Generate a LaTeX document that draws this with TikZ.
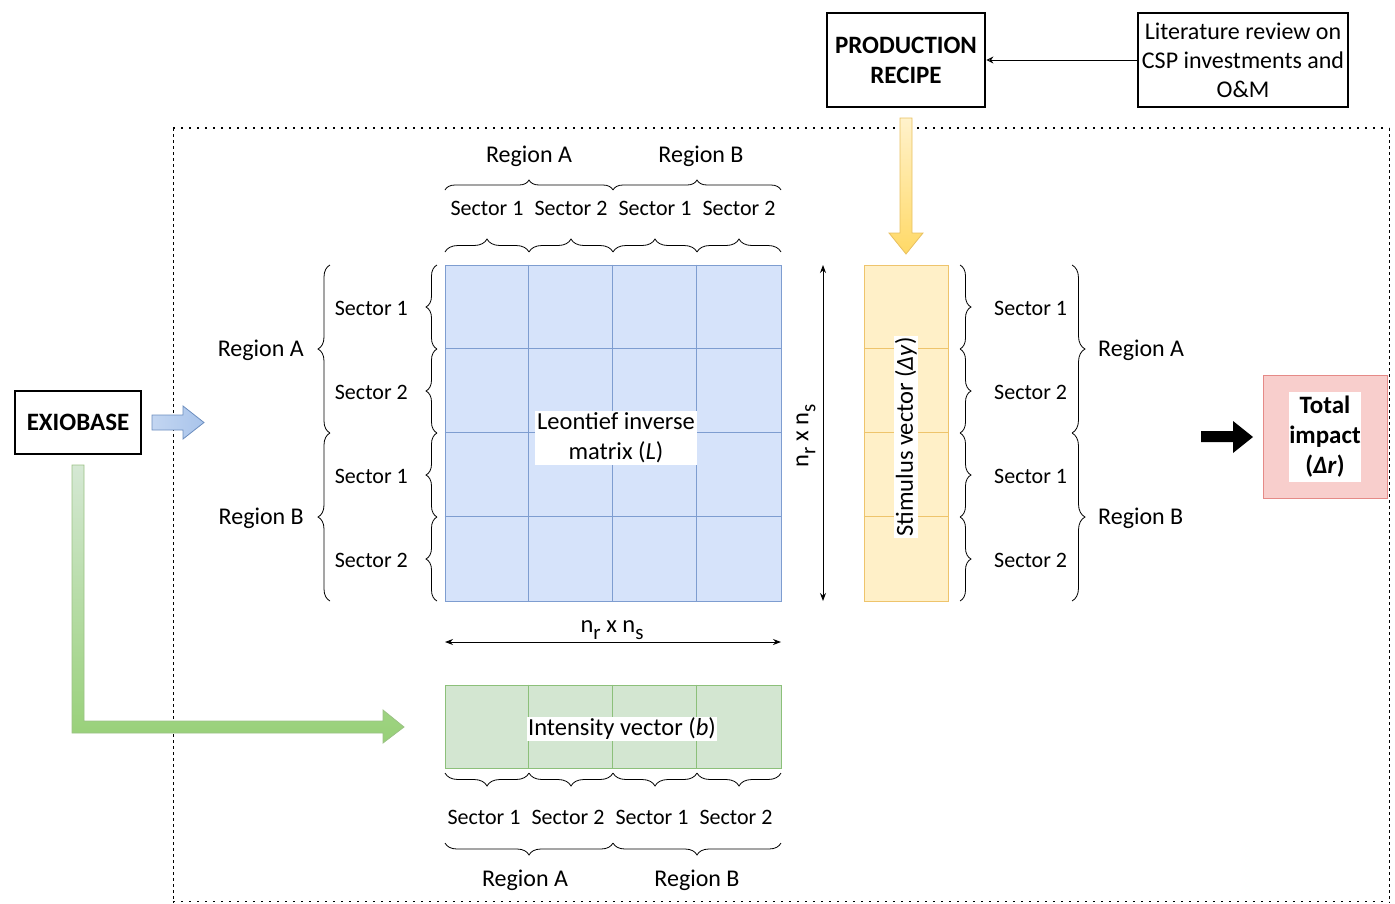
\documentclass[tikz,border=0pt]{standalone}
\usepackage{fontspec}
\setmainfont{Carlito}
\usetikzlibrary{decorations.pathreplacing,arrows.meta,calc}
\definecolor{bfill}{HTML}{D6E3FA}
\definecolor{bdraw}{HTML}{7E9DD0}
\definecolor{yfill}{HTML}{FFF0C8}
\definecolor{ydraw}{HTML}{EEC46C}
\definecolor{gfill}{HTML}{D3E6D1}
\definecolor{gdraw}{HTML}{8CC07A}
\definecolor{pfill}{HTML}{F8CECC}
\definecolor{pdraw}{HTML}{E58A87}
\definecolor{arblue}{HTML}{A9C4EB}
\definecolor{arblued}{HTML}{6C8EBF}
\definecolor{argreen1}{HTML}{D5E8D4}
\definecolor{argreen2}{HTML}{97D077}
\definecolor{argreend}{HTML}{82B366}
\definecolor{aryel1}{HTML}{FFF2CC}
\definecolor{aryel2}{HTML}{FFD966}
\definecolor{aryeld}{HTML}{E8C060}
\newcommand{\mysub}[1]{\raisebox{-0.28em}{\fontsize{21}{21}\selectfont #1}}
\newcommand{\nrns}{n\mysub{r} x n\mysub{s}}
\begin{document}
\begin{tikzpicture}[x=1pt,y=-1pt,
  every node/.style={font=\fontsize{24.5}{29}\selectfont, inner sep=0pt},
  secf/.style={font=\fontsize{22}{26}\selectfont},
  regf/.style={font=\fontsize{24}{28}\selectfont},
  thickbox/.style={draw=black, line width=2.8pt, align=center, font=\fontsize{25}{30}\selectfont\bfseries},
  brc/.style={decorate, decoration={brace, amplitude=#1}, line width=0.8pt},
  brc/.default=11pt,
  cellgrid/.style={line width=0.9pt},
  dim/.style={{Stealth[length=8pt,width=6pt]}-{Stealth[length=8pt,width=6pt]}, line width=0.9pt},
  wlabel/.style={fill=white, inner sep=2pt, align=center},
]
\useasboundingbox (0,0) rectangle (1395,903);

% dotted frame
\draw[line width=1.1pt, dash pattern=on 1.6pt off 6.4pt] (173,128) -- (1389,128);
\draw[line width=1.1pt, dash pattern=on 1.6pt off 6.4pt] (173,901.5) -- (1389,901.5);
\draw[line width=1pt, dash pattern=on 3pt off 3pt] (173,128) -- (173,903);
\draw[line width=1pt, dash pattern=on 3pt off 3pt] (1389,128) -- (1389,903);

% top boxes
\node[thickbox, minimum width=158, minimum height=94] (prod) at (906,60) {PRODUCTION\\RECIPE};
\node[draw=black, line width=1.1pt, minimum width=210, minimum height=94, align=center, font=\fontsize{24}{29}\selectfont] (lit) at (1243,60) {Literature review on\\CSP investments and\\O\&M};
\draw[line width=1pt, -{Stealth[length=7pt,width=7pt,open]}] (lit.west) -- (prod.east);

% EXIOBASE
\node[thickbox, minimum width=126, minimum height=63] (exio) at (78,422.5) {EXIOBASE};

% blue arrow
\shade[left color=arblue!70, right color=arblue, draw=arblued, line width=0.8pt]
  (152,415) -- (183,415) -- (183,406) -- (204,422.5) -- (183,439) -- (183,430) -- (152,430) -- cycle;

% green L arrow
\shade[top color=argreen1, bottom color=argreen2, draw=argreend!80, line width=0.8pt]
  (72,465) -- (84,465) -- (84,721) -- (383,721) -- (383,710) -- (404,727) -- (383,743) -- (383,733) -- (72,733) -- cycle;

% yellow arrow
\shade[top color=aryel1, bottom color=aryel2, draw=aryeld, line width=0.8pt]
  (900,118) -- (912,118) -- (912,233) -- (923,233) -- (906,254) -- (889,233) -- (900,233) -- cycle;

% black arrow
\fill[black] (1201,431) -- (1233,431) -- (1233,421) -- (1253,437) -- (1233,453) -- (1233,442) -- (1201,442) -- cycle;

% Leontief matrix
\node[draw=bdraw, fill=bfill, line width=0.9pt, minimum width=336, minimum height=336] (L) at (613,433) {};
\foreach \i in {1,2,3} {
  \draw[cellgrid, draw=bdraw] ($(L.north west)+(84*\i,0)$) -- ($(L.south west)+(84*\i,0)$);
  \draw[cellgrid, draw=bdraw] ($(L.north west)+(0,84*\i)$) -- ($(L.north east)+(0,84*\i)$);
}
\node[wlabel, font=\fontsize{24.5}{30}\selectfont] (Llab) at (616,438) {Leontief inverse\\matrix (\textit{L})};

% stimulus vector
\node[draw=ydraw, fill=yfill, line width=0.9pt, minimum width=84, minimum height=336] (Y) at (906,433) {};
\foreach \i in {1,2,3} {
  \draw[cellgrid, draw=ydraw] ($(Y.north west)+(0,84*\i)$) -- ($(Y.north east)+(0,84*\i)$);
}
\node[wlabel, rotate=90, inner sep=1.5pt] (Ylab) at (906,437) {Stimulus vector (\textit{Δy})};

% intensity vector
\node[draw=gdraw, fill=gfill, line width=0.9pt, minimum width=336, minimum height=83] (B) at (613,726.5) {};
\foreach \i in {1,2,3} {
  \draw[cellgrid, draw=gdraw] ($(B.north west)+(84*\i,0)$) -- ($(B.south west)+(84*\i,0)$);
}
\node[wlabel, inner sep=1.5pt] (Blab) at (622,729) {Intensity vector (\textit{b})};

% total impact
\node[draw=pdraw, fill=pfill, line width=0.9pt, minimum width=124, minimum height=123] (T) at (1325,436.5) {};
\node[fill=white, minimum width=72, minimum height=90, align=center, font=\fontsize{25}{30}\selectfont\bfseries] (Tlab) at (T.center) {Total\\impact\\(\textbf{\textit{Δr}})};

% dimension arrows
\coordinate (vd1) at (823,265); \coordinate (vd2) at (823,601);
\draw[dim] (vd1) -- (vd2);
\node[rotate=90] (vdl) at (806,436) {\nrns};
\coordinate (hd1) at (445,642); \coordinate (hd2) at (781,642);
\draw[dim] (hd1) -- (hd2);
\node (hdl) at (612,630) {\nrns};

% top braces
\draw[brc=10pt] (445,190) -- (613,190);
\draw[brc=10pt] (613,190) -- (781,190);
\node[regf] (tra) at (529,156) {Region A};
\node[regf] (trb) at (701,156) {Region B};
\foreach \i/\s in {0/1,1/2,2/1,3/2} {
  \node[secf] at (487+84*\i,208) {Sector \s};
  \draw[brc=13pt] (445+84*\i,252) -- (529+84*\i,252);
}

% bottom braces
\foreach \i/\s in {0/1,1/2,2/1,3/2} {
  \draw[brc=13pt] (529+84*\i,773) -- (445+84*\i,773);
  \node[secf] at (484+84*\i,817) {Sector \s};
}
\draw[brc=12pt] (613,843) -- (445,843);
\draw[brc=12pt] (781,843) -- (613,843);
\node[regf] (bra) at (525,880) {Region A};
\node[regf] (brb) at (697,880) {Region B};

% left braces
\foreach \i/\s in {0/1,1/2,2/1,3/2} {
  \draw[brc=11pt] (437,349+84*\i) -- (437,265+84*\i);
  \node[secf, anchor=east] at (408,308+84*\i) {Sector \s};
}
\draw[brc=12pt] (330,433) -- (330,265);
\draw[brc=12pt] (330,601) -- (330,433);
\node[regf, anchor=east] (lra) at (304,350) {Region A};
\node[regf, anchor=east] (lrb) at (304,518) {Region B};

% right braces
\foreach \i/\s in {0/1,1/2,2/1,3/2} {
  \draw[brc=11pt] (960,265+84*\i) -- (960,349+84*\i);
  \node[secf, anchor=west] at (994,308+84*\i) {Sector \s};
}
\draw[brc=13pt] (1072,265) -- (1072,433);
\draw[brc=13pt] (1072,433) -- (1072,601);
\node[regf, anchor=west] (rra) at (1098,350) {Region A};
\node[regf, anchor=west] (rrb) at (1098,518) {Region B};
\end{tikzpicture}
\end{document}
